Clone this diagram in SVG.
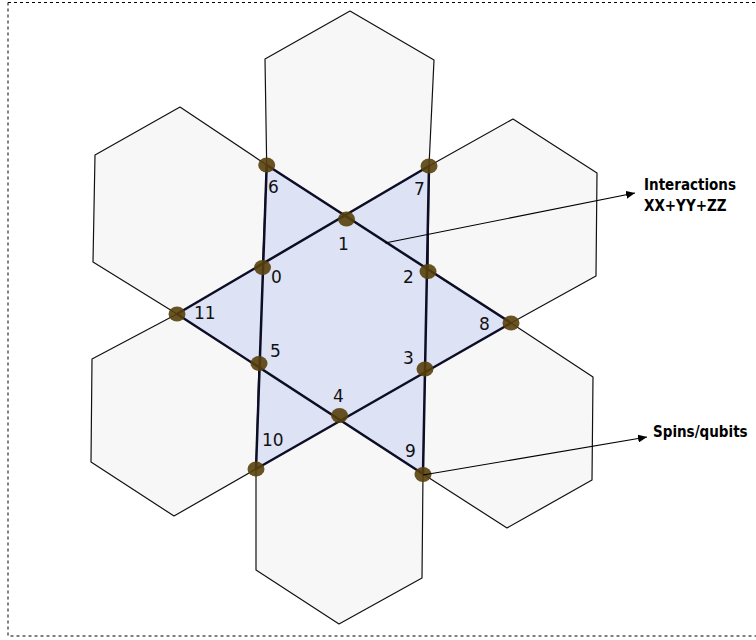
<svg xmlns="http://www.w3.org/2000/svg" width="756" height="640" viewBox="0 0 756 640">
<style>
.hex{fill:#f7f7f7;stroke:#111;stroke-width:1.2;stroke-linejoin:round}
.tri{fill:none;stroke:#0d0d26;stroke-width:2.5;stroke-linejoin:round}
.dot{fill:#58400c;fill-opacity:0.9}
.lbl{font-family:"DejaVu Sans","Liberation Sans",sans-serif;font-size:17px;fill:#111}
.ann{font-family:"DejaVu Sans Condensed","DejaVu Sans",sans-serif;font-stretch:condensed;font-weight:bold;font-size:15px;fill:#000}
.arr{stroke:#000;stroke-width:1.2;fill:none}
</style>
<defs>
<marker id="ah" markerWidth="10" markerHeight="8" refX="9" refY="4" orient="auto" markerUnits="userSpaceOnUse">
<path d="M0,0 L9,4 L0,8 z" fill="#000"/>
</marker>
</defs>
<rect x="8" y="2.5" width="760" height="633.5" fill="#fff" stroke="#000" stroke-width="1" stroke-dasharray="3 3"/>
<g id="hexagons">
<polygon id="hex-top" class="hex" points="350,11 434,60 429,166 347,219 266.7,165 265,59"/>
<polygon id="hex-upper-left" class="hex" points="180,107 95,155 93,262 177,314 262.5,267.5 266.7,165"/>
<polygon id="hex-upper-right" class="hex" points="513,119 597,173 596,276 511,323 428,271 429,166"/>
<polygon id="hex-lower-right" class="hex" points="511,323 593,377 592,480 507,528 423,474 425,369"/>
<polygon id="hex-bottom" class="hex" points="339.5,415 423,474 422,578 339,624 256,570 256,469"/>
<polygon id="hex-lower-left" class="hex" points="177,314 92,359 91,462 174,516 256,469 259,363"/>
</g>
<g id="star">
<polygon points="266.7,165 511,323 256,469" fill="#dde2f5"/>
<polygon points="429,166 423,474 177,314" fill="#dde2f5"/>
<polygon class="tri" points="266.7,165 511,323 256,469"/>
<polygon class="tri" points="429,166 423,474 177,314"/>
</g>
<g id="nodes">
<g id="n0"><ellipse class="dot" cx="262.5" cy="267.5" rx="8.5" ry="7.5"/><text class="lbl" x="271" y="283">0</text></g>
<g id="n1"><ellipse class="dot" cx="346.5" cy="219" rx="8.5" ry="7.5"/><text class="lbl" x="338" y="250">1</text></g>
<g id="n2"><ellipse class="dot" cx="428" cy="271.5" rx="8.5" ry="7.5"/><text class="lbl" x="403" y="283">2</text></g>
<g id="n3"><ellipse class="dot" cx="425" cy="369" rx="8.5" ry="7.5"/><text class="lbl" x="403" y="364">3</text></g>
<g id="n4"><ellipse class="dot" cx="339.5" cy="415.5" rx="8.5" ry="7.5"/><text class="lbl" x="333" y="402">4</text></g>
<g id="n5"><ellipse class="dot" cx="259" cy="363.5" rx="8.5" ry="7.5"/><text class="lbl" x="270" y="357">5</text></g>
<g id="n6"><ellipse class="dot" cx="266.7" cy="165" rx="8.5" ry="7.5"/><text class="lbl" x="268" y="193">6</text></g>
<g id="n7"><ellipse class="dot" cx="429" cy="166" rx="8.5" ry="7.5"/><text class="lbl" x="414" y="195">7</text></g>
<g id="n8"><ellipse class="dot" cx="511" cy="323" rx="8.5" ry="7.5"/><text class="lbl" x="479" y="330">8</text></g>
<g id="n9"><ellipse class="dot" cx="423" cy="474.5" rx="8.5" ry="7.5"/><text class="lbl" x="405" y="457">9</text></g>
<g id="n10"><ellipse class="dot" cx="256" cy="469" rx="8.5" ry="7.5"/><text class="lbl" x="262" y="446">10</text></g>
<g id="n11"><ellipse class="dot" cx="177" cy="314" rx="8.5" ry="7.5"/><text class="lbl" x="194" y="319">11</text></g>
</g>
<g id="connectors">
<line class="arr" x1="385" y1="243" x2="635" y2="193" marker-end="url(#ah)"/>
<line class="arr" x1="423" y1="475" x2="647" y2="437" marker-end="url(#ah)"/>
</g>
<g id="annotations">
<text class="ann" x="644" y="190">Interactions</text>
<text class="ann" x="644" y="211">XX+YY+ZZ</text>
<text class="ann" x="653" y="437">Spins/qubits</text>
</g>
</svg>
